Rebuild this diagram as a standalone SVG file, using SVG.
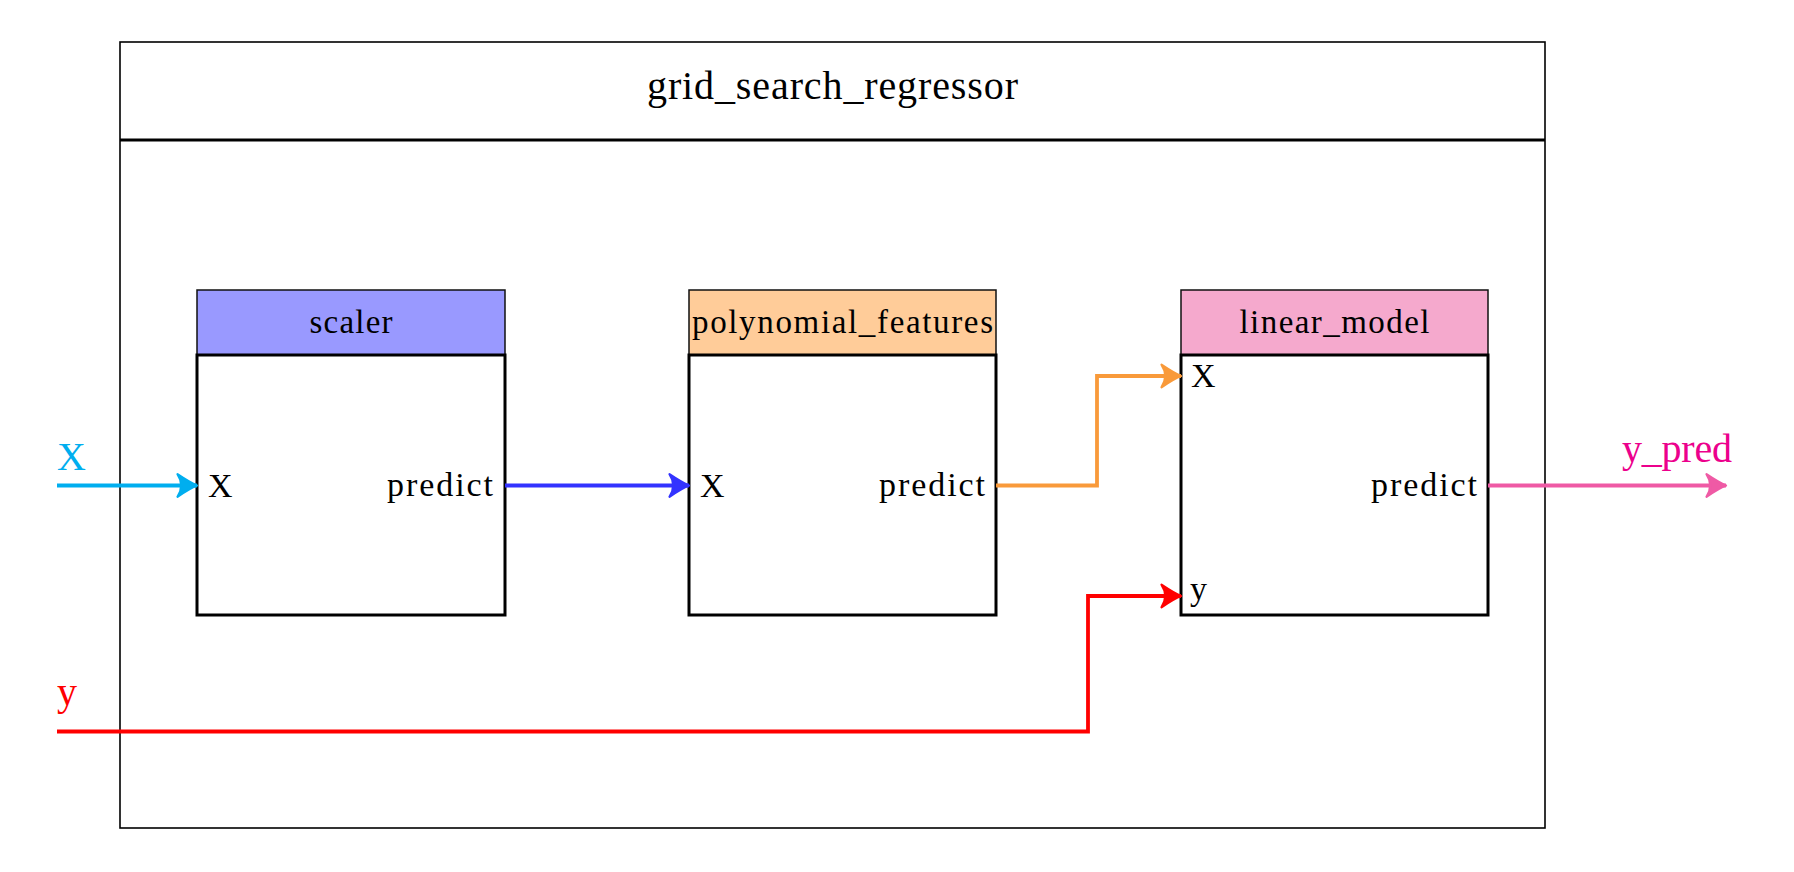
<svg xmlns="http://www.w3.org/2000/svg" width="1794" height="872" viewBox="0 0 1794 872">
<style>
text{font-family:"Liberation Serif","Times New Roman",serif;fill:#000}
.hdr{font-size:33px;text-anchor:middle}
.port{font-size:34px}
.body{fill:#fff;stroke:#000;stroke-width:3}
.head{stroke:#111;stroke-width:1.5}
.conn{fill:none;stroke-width:3.8;stroke-linejoin:miter}
.io{font-size:40px}
</style>
<defs>
<marker id="a-cyan" markerUnits="userSpaceOnUse" markerWidth="30" markerHeight="30" viewBox="-16 -10 20 20" refX="0" refY="0" orient="auto"><path d="M-13,-7.5 Q-4,-1.5 0,0 Q-4,1.5 -13,7.5 Q-8,0 -13,-7.5 Z" fill="#00aeef" stroke="#00aeef" stroke-width="1.5" stroke-linejoin="round"/></marker>
<marker id="a-blue" markerUnits="userSpaceOnUse" markerWidth="30" markerHeight="30" viewBox="-16 -10 20 20" refX="0" refY="0" orient="auto"><path d="M-13,-7.5 Q-4,-1.5 0,0 Q-4,1.5 -13,7.5 Q-8,0 -13,-7.5 Z" fill="#3333ff" stroke="#3333ff" stroke-width="1.5" stroke-linejoin="round"/></marker>
<marker id="a-orange" markerUnits="userSpaceOnUse" markerWidth="30" markerHeight="30" viewBox="-16 -10 20 20" refX="0" refY="0" orient="auto"><path d="M-13,-7.5 Q-4,-1.5 0,0 Q-4,1.5 -13,7.5 Q-8,0 -13,-7.5 Z" fill="#f99a3a" stroke="#f99a3a" stroke-width="1.5" stroke-linejoin="round"/></marker>
<marker id="a-red" markerUnits="userSpaceOnUse" markerWidth="30" markerHeight="30" viewBox="-16 -10 20 20" refX="0" refY="0" orient="auto"><path d="M-13,-7.5 Q-4,-1.5 0,0 Q-4,1.5 -13,7.5 Q-8,0 -13,-7.5 Z" fill="#ff0000" stroke="#ff0000" stroke-width="1.5" stroke-linejoin="round"/></marker>
<marker id="a-pink" markerUnits="userSpaceOnUse" markerWidth="30" markerHeight="30" viewBox="-16 -10 20 20" refX="0" refY="0" orient="auto"><path d="M-13,-7.5 Q-4,-1.5 0,0 Q-4,1.5 -13,7.5 Q-8,0 -13,-7.5 Z" fill="#ef5aa5" stroke="#ef5aa5" stroke-width="1.5" stroke-linejoin="round"/></marker>
</defs>
<rect width="1794" height="872" fill="#fff"/>
<g id="grid_search_regressor">
<rect x="120" y="42" width="1425" height="786" fill="none" stroke="#000" stroke-width="1.6"/>
<line x1="120" y1="140" x2="1545" y2="140" stroke="#000" stroke-width="2.8"/>
<text x="832.5" y="99" font-size="40" text-anchor="middle" textLength="371">grid_search_regressor</text>
</g>
<g id="scaler">
<rect class="head" x="197" y="290" width="308" height="65" fill="#9999ff"/>
<rect class="body" x="197" y="355" width="308" height="260"/>
<text class="hdr" x="351" y="333" textLength="83">scaler</text>
<text class="port" x="208" y="497">X</text>
<text class="port" x="493" y="496" text-anchor="end" textLength="106">predict</text>
</g>
<g id="polynomial_features">
<rect class="head" x="689" y="290" width="307" height="65" fill="#ffcc99"/>
<rect class="body" x="689" y="355" width="307" height="260"/>
<text class="hdr" x="842.5" y="333" textLength="301">polynomial_features</text>
<text class="port" x="700" y="497">X</text>
<text class="port" x="985" y="496" text-anchor="end" textLength="106">predict</text>
</g>
<g id="linear_model">
<rect class="head" x="1181" y="290" width="307" height="65" fill="#f5a9cd"/>
<rect class="body" x="1181" y="355" width="307" height="260"/>
<text class="hdr" x="1334.5" y="333" textLength="190">linear_model</text>
<text class="port" x="1191" y="387">X</text>
<text class="port" x="1477" y="496" text-anchor="end" textLength="106">predict</text>
<text class="port" x="1190" y="600">y</text>
</g>
<g id="connectors">
<path class="conn" d="M57,485.5 H197" stroke="#00aeef" marker-end="url(#a-cyan)"/>
<path class="conn" d="M505,485.5 H689" stroke="#3333ff" marker-end="url(#a-blue)"/>
<path class="conn" d="M996,485.5 H1097 V376 H1181" stroke="#f99a3a" marker-end="url(#a-orange)"/>
<path class="conn" d="M57,731.5 H1088 V596 H1181" stroke="#ff0000" marker-end="url(#a-red)"/>
<path class="conn" d="M1488,485.5 H1726" stroke="#ef5aa5" marker-end="url(#a-pink)"/>
<text class="io" x="57" y="470" style="fill:#00aeef">X</text>
<text class="io" x="57" y="705" style="fill:#ff0000">y</text>
<text class="io" x="1622" y="462" textLength="110" style="fill:#ec008c">y_pred</text>
</g>
</svg>
